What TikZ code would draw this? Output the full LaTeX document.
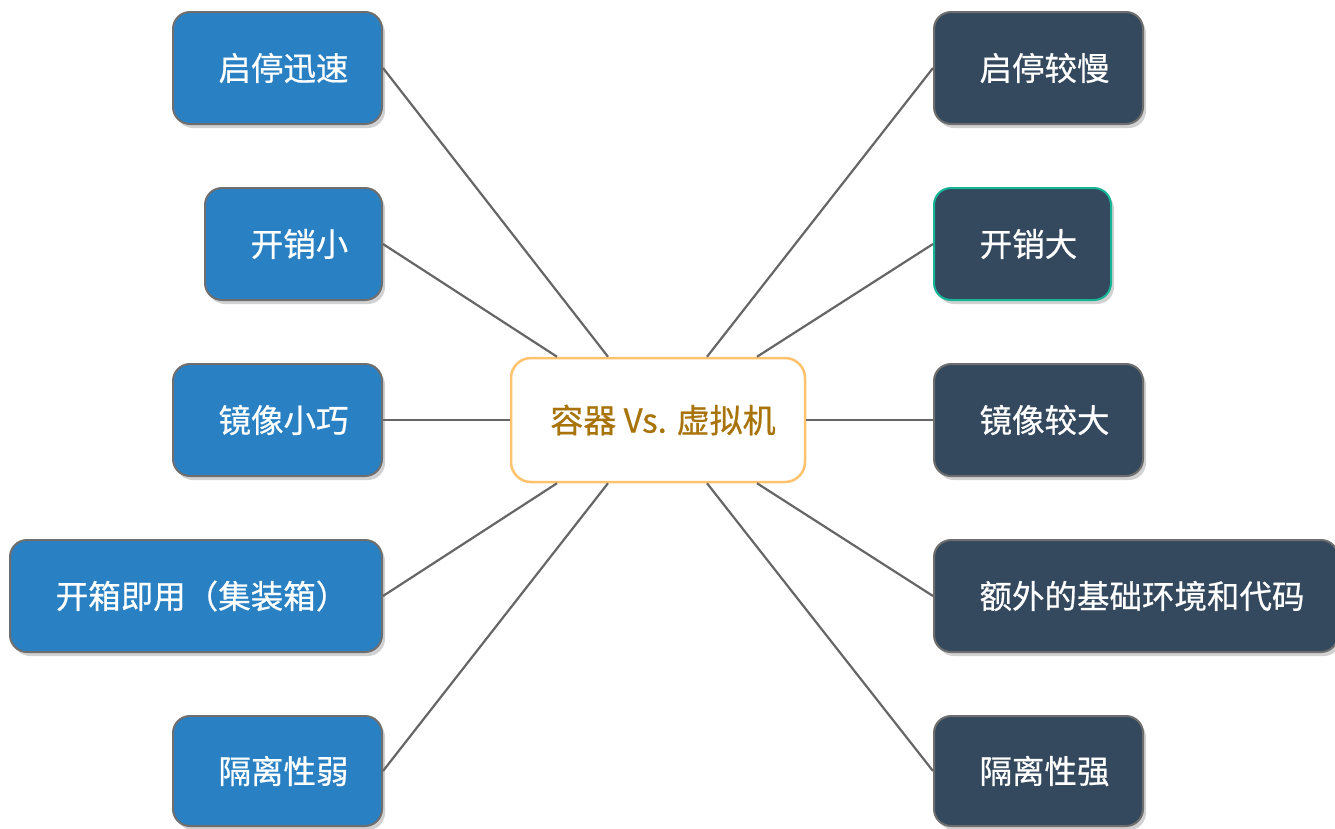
\documentclass[tikz,border=0pt]{standalone}
\usepackage{fontspec}
\setmainfont{Noto Sans CJK SC}
\newfontfamily\medfont{Noto Sans CJK SC}[FakeBold=0.6]
\usetikzlibrary{shadows}
\definecolor{lblue}{HTML}{2980C3}
\definecolor{rdark}{HTML}{34495E}
\definecolor{bgray}{HTML}{6E6E6E}
\definecolor{lgray}{HTML}{666666}
\definecolor{corange}{HTML}{FFC36E}
\definecolor{ctext}{HTML}{A8730B}
\definecolor{cteal}{HTML}{16B597}
\tikzset{
  box/.style={rectangle, rounded corners=17pt, draw=bgray, line width=2pt,
    minimum height=112pt, text=white, inner sep=0pt,
    font=\medfont\fontsize{32.5pt}{38pt}\selectfont,
    drop shadow={shadow xshift=3pt, shadow yshift=-4pt, fill=black, opacity=0.18}},
  lbox/.style={box, fill=lblue},
  rbox/.style={box, fill=rdark},
  cbox/.style={rectangle, rounded corners=20pt, draw=corange, line width=2.5pt,
    fill=white, minimum width=294pt, minimum height=124pt, text=ctext, inner sep=0pt,
    font=\medfont\fontsize{33pt}{38pt}\selectfont},
  link/.style={draw=lgray, line width=2.2pt}
}
\begin{document}
\begin{tikzpicture}[x=1pt,y=-1pt]
\useasboundingbox (0,0) rectangle (1335,828);
% center
\node[cbox] (c) at (658,420) {\hspace*{10pt}容器 Vs. 虚拟机};
\coordinate (ctl2) at ([xshift=-101pt]c.north);
\coordinate (ctl1) at ([xshift=-50pt]c.north);
\coordinate (ctr1) at ([xshift=49pt]c.north);
\coordinate (ctr2) at ([xshift=99pt]c.north);
\coordinate (cbl2) at ([xshift=-101pt]c.south);
\coordinate (cbl1) at ([xshift=-50pt]c.south);
\coordinate (cbr1) at ([xshift=49pt]c.south);
\coordinate (cbr2) at ([xshift=99pt]c.south);
% left
\node[lbox, minimum width=209pt] (l1) at (277.5,68) {\hspace*{12pt}启停迅速};
\node[lbox, minimum width=177pt] (l2) at (293.5,244) {\hspace*{12pt}开销小};
\node[lbox, minimum width=209pt] (l3) at (277.5,420) {\hspace*{12pt}镜像小巧};
\node[lbox, minimum width=372pt] (l4) at (196,596) {\hspace*{12pt}开箱即用（集装箱）};
\node[lbox, minimum width=209pt, minimum height=110pt] (l5) at (277.5,771) {\hspace*{12pt}隔离性弱};
% right
\node[rbox, minimum width=209pt] (r1) at (1038.5,68) {\hspace*{12pt}启停较慢};
\node[rbox, minimum width=177pt, draw=cteal] (r2) at (1022.5,244) {\hspace*{12pt}开销大};
\node[rbox, minimum width=209pt] (r3) at (1038.5,420) {\hspace*{12pt}镜像较大};
\node[rbox, minimum width=404pt] (r4) at (1136,596) {\hspace*{12pt}额外的基础环境和代码};
\node[rbox, minimum width=209pt, minimum height=110pt] (r5) at (1038.5,771) {\hspace*{12pt}隔离性强};
% links
\draw[link] (l1.east) -- (ctl1);
\draw[link] (l2.east) -- (ctl2);
\draw[link] (l3.east) -- (c.west);
\draw[link] (l4.east) -- (cbl2);
\draw[link] (l5.east) -- (cbl1);
\draw[link] (r1.west) -- (ctr1);
\draw[link] (r2.west) -- (ctr2);
\draw[link] (r3.west) -- (c.east);
\draw[link] (r4.west) -- (cbr2);
\draw[link] (r5.west) -- (cbr1);
\end{tikzpicture}
\end{document}
